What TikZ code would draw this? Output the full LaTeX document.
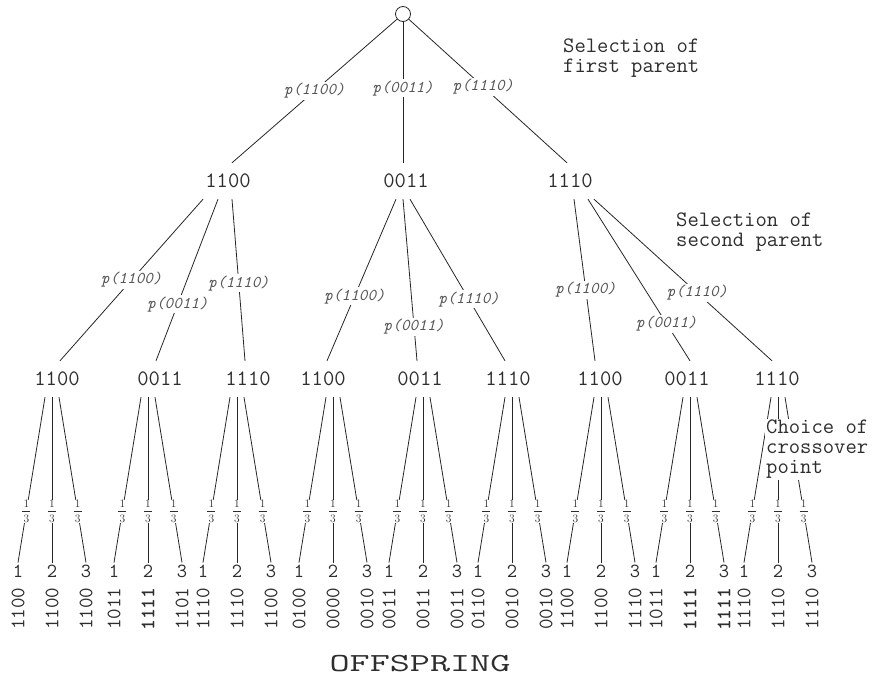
\documentclass[tikz,border=0pt]{standalone}
\usepackage{graphicx}
\usetikzlibrary{positioning,calc}
\definecolor{inkgray}{RGB}{45,45,45}
\definecolor{labgray}{RGB}{85,85,85}
\newcommand{\onethird}{\shortstack{1\\\rule{8pt}{0.7pt}\\3}}

\begin{document}
\begin{tikzpicture}[x=1pt, y=-1pt, every node/.style={text=inkgray},
 chrom/.style={font=\fontsize{22}{22}\ttfamily, minimum height=36pt, inner xsep=2pt, inner ysep=0pt},
 prob/.style={font=\fontsize{16.5}{16.5}\ttfamily\itshape, text=labgray, fill=white, inner sep=1.5pt},
 third/.style={font=\fontsize{11.5}{11.5}\selectfont, fill=white, inner xsep=1pt, inner ysep=0.5pt},
 cut/.style={font=\fontsize{20}{20}\ttfamily, inner sep=2pt},
 child/.style={font=\fontsize{20.5}{20.5}\ttfamily, rotate=90, anchor=east, inner sep=0pt},
 note/.style={font=\fontsize{22}{20}\ttfamily, align=left, anchor=north west, inner sep=1pt},
 branch/.style={draw=black!85, line width=0.8pt}]
\useasboundingbox (0,0) rectangle (878,678);

% first parent
\node[draw=black!85, line width=0.8pt, circle, minimum size=15pt, inner sep=0pt] (root) at (403,14) {};
\node[chrom] (p1) at (228,181) {1100};
\node[chrom] (p2) at (406,181) {0011};
\node[chrom] (p3) at (570,181) {1110};
\draw[branch] (root) -- node[prob,pos=0.5]{p(1100)} ([xshift=4pt]p1.north);
\draw[branch] (root) -- node[prob,pos=0.47]{p(0011)} ([xshift=-3pt]p2.north);
\draw[branch] (root) -- node[prob,pos=0.47]{p(1110)} ([xshift=-3pt]p3.north);

% second parent
\foreach \x/\t [count=\i] in {57/1100,160/0011,248/1110,323/1100,420/0011,508/1110,600/1100,687/0011,777/1110}
  \node[chrom] (q\i) at (\x,379) {\t};
\foreach \p/\a/\c/\b/\t/\q in {p1/-25/q1/3/1100/0.5, p1/-10/q2/-4/0011/0.65, p1/4/q3/-3/1110/0.52,
  p2/-10/q4/4/1100/0.6, p2/-3/q5/-3/0011/0.79, p2/4/q6/-3/1110/0.62,
  p3/4/q7/-5/1100/0.56, p3/18/q8/3/0011/0.77, p3/24/q9/-5/1110/0.58}
  \draw[branch] ([xshift=\a]\p.south) -- node[prob,pos=\q]{p(\t)} ([xshift=\b]\c.north);

% crossover point and offspring
\foreach \g/\X/\u/\v/\w in {1/52/1100/1100/1100, 2/148/1011/\textbf{1111}/1101, 3/237/1110/1110/1100,
  4/333/0100/0000/0010, 5/423/0011/0011/0011, 6/512/0110/0010/0010,
  7/601/1100/1100/1110, 8/690/1011/\textbf{1111}/\textbf{1111}, 9/778/1110/1110/1110}{
  \node[cut] (k\g1) at (\X-34,571) {1};
  \node[cut] (k\g2) at (\X,571) {2};
  \node[cut] (k\g3) at (\X+34,571) {3};
  \draw[branch] ($(q\g.south -| k\g2)+(-7,0)$) -- node[third,pos=0.69]{\onethird} (k\g1.north);
  \draw[branch] (q\g.south -| k\g2) -- node[third,pos=0.69]{\onethird} (k\g2.north);
  \draw[branch] ($(q\g.south -| k\g2)+(7,0)$) -- node[third,pos=0.69]{\onethird} (k\g3.north);
  \node[child] (s\g1) at ([yshift=-8pt]k\g1.south) {\u};
  \node[child] (s\g2) at ([yshift=-8pt]k\g2.south) {\v};
  \node[child] (s\g3) at ([yshift=-8pt]k\g3.south) {\w};
}

\node[font=\fontsize{26}{26}\ttfamily] (offspring) at (420,664) {\scalebox{1.5}[1]{OFFSPRING}};

% stage notes
\node[note] (first) at (562,38) {Selection of\\first parent};
\node[note] (second) at (675,212) {Selection of\\second parent};
\node[note, fill=white] (cross) at (765,419) {Choice of\\crossover\\point};
\end{tikzpicture}
\end{document}
